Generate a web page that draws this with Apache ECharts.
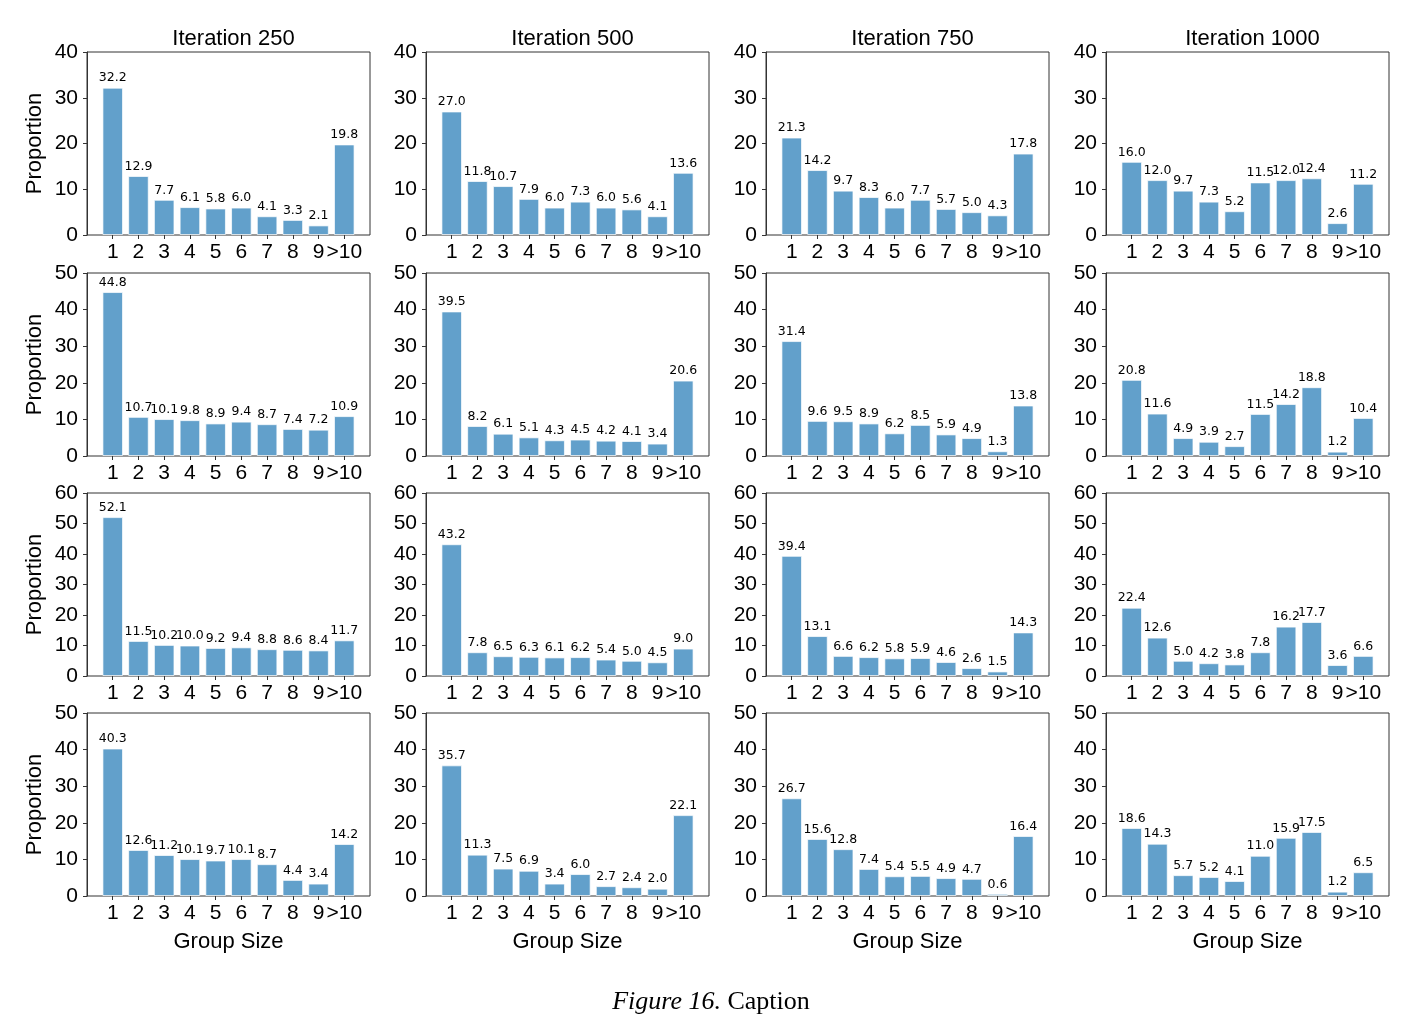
<!DOCTYPE html>
<html lang="en">
<head>
    <meta charset="utf-8">
    <title>Group Size</title>
    <script src="https://cdn.jsdelivr.net/npm/echarts@6/dist/echarts.min.js"></script>
    <style>
        body { margin: 0; background: #fff; }
        #main { width: 1412px; height: 1030px; }
    </style>
</head>
<body>
<div id="main"></div>
<script>
    // 数据
    var categories = ['1', '2', '3', '4', '5', '6', '7', '8', '9', '>10'];
    var iterations = ['Iteration 250', 'Iteration 500', 'Iteration 750', 'Iteration 1000'];
    var yMax = [40, 50, 60, 50];

    var row1 = [
        [32.2, 12.9, 7.7, 6.1, 5.8, 6.0, 4.1, 3.3, 2.1, 19.8],
        [27.0, 11.8, 10.7, 7.9, 6.0, 7.3, 6.0, 5.6, 4.1, 13.6],
        [21.3, 14.2, 9.7, 8.3, 6.0, 7.7, 5.7, 5.0, 4.3, 17.8],
        [16.0, 12.0, 9.7, 7.3, 5.2, 11.5, 12.0, 12.4, 2.6, 11.2]
    ];
    var row2 = [
        [44.8, 10.7, 10.1, 9.8, 8.9, 9.4, 8.7, 7.4, 7.2, 10.9],
        [39.5, 8.2, 6.1, 5.1, 4.3, 4.5, 4.2, 4.1, 3.4, 20.6],
        [31.4, 9.6, 9.5, 8.9, 6.2, 8.5, 5.9, 4.9, 1.3, 13.8],
        [20.8, 11.6, 4.9, 3.9, 2.7, 11.5, 14.2, 18.8, 1.2, 10.4]
    ];
    var row3 = [
        [52.1, 11.5, 10.2, 10.0, 9.2, 9.4, 8.8, 8.6, 8.4, 11.7],
        [43.2, 7.8, 6.5, 6.3, 6.1, 6.2, 5.4, 5.0, 4.5, 9.0],
        [39.4, 13.1, 6.6, 6.2, 5.8, 5.9, 4.6, 2.6, 1.5, 14.3],
        [22.4, 12.6, 5.0, 4.2, 3.8, 7.8, 16.2, 17.7, 3.6, 6.6]
    ];
    var row4 = [
        [40.3, 12.6, 11.2, 10.1, 9.7, 10.1, 8.7, 4.4, 3.4, 14.2],
        [35.7, 11.3, 7.5, 6.9, 3.4, 6.0, 2.7, 2.4, 2.0, 22.1],
        [26.7, 15.6, 12.8, 7.4, 5.4, 5.5, 4.9, 4.7, 0.6, 16.4],
        [18.6, 14.3, 5.7, 5.2, 4.1, 11.0, 15.9, 17.5, 1.2, 6.5]
    ];
    var rows = [row1, row2, row3, row4];

    // 布局
    var colLeft = [87, 426, 766, 1106];
    var rowTop = [52, 273, 493, 713];
    var plotW = 283, plotH = 183;
    var pad = plotW * 0.49 / 10.78;   // matplotlib 默认边距
    var sans = 'Liberation Sans, Arial, sans-serif';

    var grid = [], xAxis = [], yAxis = [], series = [], title = [];

    rows.forEach(function (row, r) {
        row.forEach(function (vals, c) {
            // 外框 + y 轴
            var g = grid.length;
            grid.push({
                left: colLeft[c], top: rowTop[r], width: plotW, height: plotH,
                show: true, borderColor: '#333', borderWidth: 1, backgroundColor: '#fff'
            });
            xAxis.push({ gridIndex: g, type: 'value', show: false, min: 0, max: 1 });
            yAxis.push({
                gridIndex: g, type: 'value', min: 0, max: yMax[r], interval: 10,
                name: c === 0 ? 'Proportion' : '',
                nameLocation: 'middle', nameGap: 41, nameRotate: 90,
                nameTextStyle: { fontFamily: sans, fontSize: 22, color: '#000' },
                axisLine: { show: true, lineStyle: { color: '#333' } },
                axisTick: { show: true, length: 4, lineStyle: { color: '#333' } },
                axisLabel: { fontFamily: sans, fontSize: 21, color: '#000', margin: 9 },
                splitLine: { show: false }
            });
            // 柱子
            var d = grid.length;
            grid.push({
                left: colLeft[c] + pad, top: rowTop[r], width: plotW - 2 * pad, height: plotH
            });
            xAxis.push({
                gridIndex: d, type: 'category', data: categories,
                name: r === 3 ? 'Group Size' : '',
                nameLocation: 'middle', nameGap: 35,
                nameTextStyle: { fontFamily: sans, fontSize: 22, color: '#000' },
                axisLine: { show: false },
                axisTick: { show: true, alignWithLabel: true, length: 4, lineStyle: { color: '#333' } },
                axisLabel: { fontFamily: sans, fontSize: 21, color: '#000', margin: 7, interval: 0 }
            });
            yAxis.push({ gridIndex: d, type: 'value', show: false, min: 0, max: yMax[r] });
            series.push({
                type: 'bar', xAxisIndex: xAxis.length - 1, yAxisIndex: yAxis.length - 1,
                data: vals, barWidth: '80%',
                itemStyle: { color: '#62a0cb', borderColor: 'rgba(255,255,255,0.7)', borderWidth: 1 },
                label: {
                    show: true, position: 'top', distance: 3,
                    fontFamily: 'DejaVu Sans, sans-serif', fontSize: 12.5, color: '#000',
                    formatter: function (p) { return p.value.toFixed(1); }
                },
                animation: false
            });
        });
    });

    iterations.forEach(function (t, c) {
        title.push({
            text: t, left: colLeft[c] + plotW / 2, top: 23, textAlign: 'center',
            textStyle: { fontFamily: sans, fontSize: 22, fontWeight: 'normal', color: '#000' }
        });
    });
    title.push({
        text: '{i|Figure 16.} Caption', left: 706, top: 984, textAlign: 'center',
        textStyle: {
            fontFamily: 'Liberation Serif, Times New Roman, serif', fontSize: 26, fontWeight: 'normal', color: '#000',
            rich: { i: { fontFamily: 'Liberation Serif, Times New Roman, serif', fontSize: 26, fontStyle: 'italic', color: '#000' } }
        }
    });

    var mCharts = echarts.init(document.getElementById('main'));
    mCharts.setOption({
        animation: false,
        title: title,
        grid: grid,
        xAxis: xAxis,
        yAxis: yAxis,
        series: series
    });
</script>
</body>
</html>
